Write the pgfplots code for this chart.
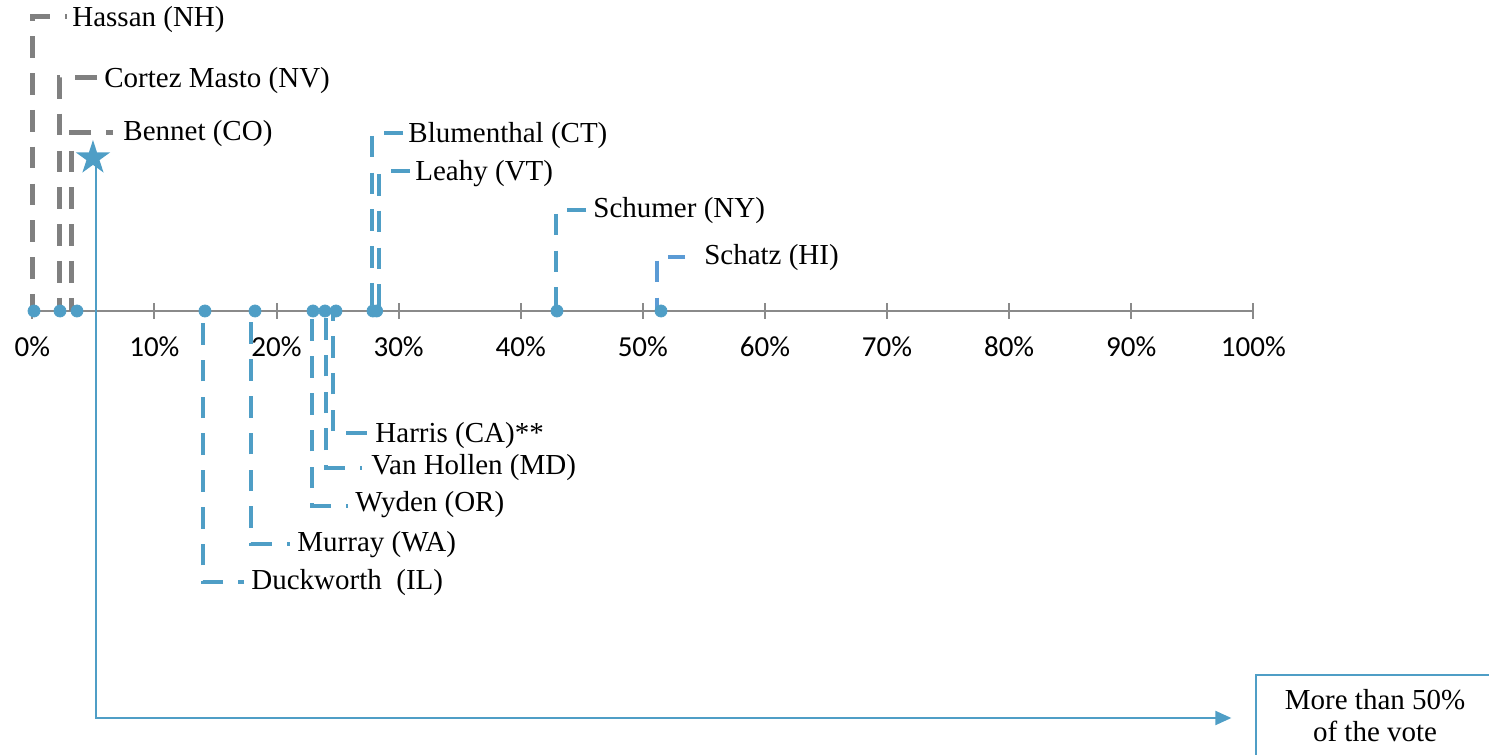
\documentclass[border=0pt]{standalone}
\usepackage{pgfplots}
\pgfplotsset{compat=1.18}
\usepackage{fontspec}
\setmainfont{Liberation Serif}
\newfontfamily\calibri{Carlito}
\usetikzlibrary{arrows.meta}
\definecolor{sblue}{HTML}{4F9EC6}
\definecolor{sblue2}{HTML}{5B9BD5}
\definecolor{sgray}{HTML}{808080}
\definecolor{agray}{HTML}{8A8A8A}
\pgfdeclareplotmark{fstar}{%
  \pgfpathmoveto{\pgfqpoint{0pt}{\pgfplotmarksize}}%
  \pgfpathlineto{\pgfqpoint{-0.2245\pgfplotmarksize}{0.309\pgfplotmarksize}}%
  \pgfpathlineto{\pgfqpoint{-0.951\pgfplotmarksize}{0.309\pgfplotmarksize}}%
  \pgfpathlineto{\pgfqpoint{-0.363\pgfplotmarksize}{-0.118\pgfplotmarksize}}%
  \pgfpathlineto{\pgfqpoint{-0.588\pgfplotmarksize}{-0.809\pgfplotmarksize}}%
  \pgfpathlineto{\pgfqpoint{0pt}{-0.382\pgfplotmarksize}}%
  \pgfpathlineto{\pgfqpoint{0.588\pgfplotmarksize}{-0.809\pgfplotmarksize}}%
  \pgfpathlineto{\pgfqpoint{0.363\pgfplotmarksize}{-0.118\pgfplotmarksize}}%
  \pgfpathlineto{\pgfqpoint{0.951\pgfplotmarksize}{0.309\pgfplotmarksize}}%
  \pgfpathlineto{\pgfqpoint{0.2245\pgfplotmarksize}{0.309\pgfplotmarksize}}%
  \pgfpathclose
  \pgfusepathqfill}
\begin{document}
\begin{tikzpicture}
\begin{axis}[scale only axis, width=744.5pt, height=377.5pt,
  xmin=-2.645, xmax=119.3, ymin=-444, ymax=311, hide axis, clip=false,
  leader/.style={line width=2.3pt, dash pattern=on 10.8pt off 7.6pt},
  lab/.style={draw=none, mark=none, nodes near coords, point meta=explicit symbolic,
    nodes near coords align={anchor=west},
    every node near coord/.append style={inner sep=0pt, text=black, font=\fontsize{14.5}{17}\selectfont}}]
\coordinate (BL) at (axis cs:-2.645,-444);
\coordinate (TR) at (axis cs:119.3,311);
% axis line and ticks
\addplot[agray, line width=1pt] coordinates {(0,0)(100,0)};
\addplot[agray, line width=1pt, ycomb] coordinates {(0,8)(10,8)(20,8)(30,8)(40,8)(50,8)(60,8)(70,8)(80,8)(90,8)(100,8)};
\addplot[agray, line width=1pt, ycomb] coordinates {(0,-8)(10,-8)(20,-8)(30,-8)(40,-8)(50,-8)(60,-8)(70,-8)(80,-8)(90,-8)(100,-8)};
\addplot[draw=none, mark=none, nodes near coords, point meta=explicit symbolic,
  nodes near coords align={anchor=center},
  every node near coord/.append style={inner sep=0pt, text=black, font=\calibri\fontsize{14.5}{17}\selectfont}]
  table[meta=lab] {
x y lab
0 -36 0\%
10 -36 10\%
20 -36 20\%
30 -36 30\%
40 -36 40\%
50 -36 50\%
60 -36 60\%
70 -36 70\%
80 -36 80\%
90 -36 90\%
100 -36 100\%
};
% leader lines (gray)
\addplot[sgray, leader, line width=2.5pt, dash phase=9.8pt] coordinates {(2.84,294)(0.0,294)(0.0,0)};
\addplot[sgray, leader, line width=2.5pt, dash phase=0pt] coordinates {(5.3,233)(2.2,233)(2.2,0)};
\addplot[sgray, leader, line width=2.5pt, dash phase=7.5pt] coordinates {(6.61,178)(3.25,178)(3.25,0)};
% leader lines (blue, above)
\addplot[sblue, leader, dash phase=1.5pt] coordinates {(30.36,178)(27.82,178)(27.82,0)};
\addplot[sblue, leader, dash phase=1.5pt] coordinates {(30.93,140)(28.4,140)(28.4,0)};
\addplot[sblue, leader, dash phase=1.5pt] coordinates {(45.35,101)(42.89,101)(42.89,0)};
\addplot[sblue2, leader, dash phase=2.5pt] coordinates {(53.46,54)(51.16,54)(51.16,0)};
% leader lines (blue, below)
\addplot[sblue, leader, dash phase=0.5pt] coordinates {(27.41,-122)(24.63,-122)(24.63,0)};
\addplot[sblue, leader, dash phase=9.8pt] coordinates {(27.0,-157)(24.05,-157)(24.05,0)};
\addplot[sblue, leader, dash phase=9.8pt] coordinates {(25.86,-195)(22.9,-195)(22.9,0)};
\addplot[sblue, leader, dash phase=9.3pt] coordinates {(21.1,-233)(17.91,-233)(17.91,0)};
\addplot[sblue, leader, dash phase=8pt] coordinates {(17.34,-271)(13.98,-271)(13.98,0)};
% dots
\addplot[only marks, mark=*, mark size=3pt, sblue] coordinates {
(0.14,0)(2.27,0)(3.66,0)(14.14,0)(18.24,0)(22.99,0)(23.97,0)(24.87,0)(27.9,0)(28.2,0)(42.97,0)(51.49,0)};
% labels
\addplot[lab] table[meta=lab] {
x y lab
3.25 291 {Hassan (NH)}
5.87 230 {Cortez Masto (NV)}
7.43 177 {Bennet (CO)}
30.77 175 {Blumenthal (CT)}
31.34 137 {Leahy (VT)}
45.92 100 {Schumer (NY)}
55.0 53 {Schatz (HI)}
28.07 -125 {Harris (CA)**}
27.74 -157 {Van Hollen (MD)}
26.43 -194 {Wyden (OR)}
21.68 -234 {Murray (WA)}
17.91 -272 {Duckworth\ \ (IL)}
};
% arrow to box
\addplot[sblue, line width=1pt, -{Triangle[length=8pt,width=7pt]}] coordinates {(5.19,150)(5.19,-407)(98.2,-407)};
\addplot[only marks, mark=fstar, mark size=9pt, sblue] coordinates {(4.97,153)};
% box (visible edges)
\addplot[sblue, line width=1pt] coordinates {(100.2,-444)(100.2,-364)(119.3,-364)};
\addplot[draw=none, mark=none, nodes near coords, point meta=explicit symbolic,
  nodes near coords align={anchor=center},
  every node near coord/.append style={inner sep=0pt, text=black, align=center, font=\fontsize{14.5}{16}\selectfont}]
  table[meta=lab] {
x y lab
109.97 -405 {More than 50\%\\of the vote}
};
\end{axis}
\pgfresetboundingbox
\path[use as bounding box] (BL) rectangle (TR);
\end{tikzpicture}
\end{document}
